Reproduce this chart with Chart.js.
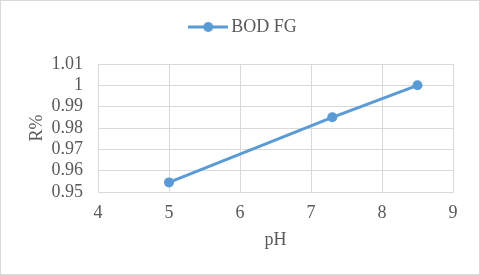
<!DOCTYPE html>
<html>
<head>
<meta charset="utf-8">
<script src="https://cdn.jsdelivr.net/npm/chart.js@4/dist/chart.umd.min.js"></script>
<style>
html,body{margin:0;padding:0;background:#fff;}
#wrap{position:relative;width:478px;height:273px;border:1px solid #d9d9d9;}
</style>
</head>
<body>
<div id="wrap"><canvas id="c" width="478" height="273"></canvas></div>
<script>
const seriesName = "BOD FG";
const phValues = [5, 7.3, 8.5];
const rValues = [0.9545, 0.985, 1.0];
const xTicks = [4, 5, 6, 7, 8, 9];
const yTicks = [0.95, 0.96, 0.97, 0.98, 0.99, 1, 1.01];
const xTitle = "pH";
const yTitle = "R%";

const blue = "#5B9BD5";
const txt = "#595959";
const grid = "#d9d9d9";
const fontFam = "'Liberation Serif', 'Times New Roman', serif";

// legend marker: line with a dot
const mk = document.createElement('canvas');
mk.width = 40; mk.height = 12;
(function(){
  const g = mk.getContext('2d');
  g.strokeStyle = blue; g.lineWidth = 3; g.lineCap = 'butt';
  g.beginPath(); g.moveTo(0, 6); g.lineTo(40, 6); g.stroke();
  g.fillStyle = blue; g.beginPath(); g.arc(20, 6, 5, 0, Math.PI*2); g.fill();
})();

Chart.defaults.font.family = fontFam;
Chart.defaults.color = txt;

const spacer = (pos, size) => ({
  type: 'linear',
  position: pos,
  display: true,
  min: 0, max: 1,
  ticks: {display: false},
  grid: {display: false, drawTicks: false},
  border: {display: false},
  title: {display: false},
  afterFit: s => { if (pos === 'top') s.height = size; else s.width = size; }
});

new Chart(document.getElementById('c'), {
  type: 'line',
  data: {
    datasets: [{
      label: seriesName,
      data: phValues.map((x, i) => ({x: x, y: rValues[i]})),
      borderColor: blue,
      backgroundColor: blue,
      borderWidth: 3,
      pointRadius: 5,
      pointHoverRadius: 5,
      pointBorderWidth: 0,
      tension: 0,
      clip: false
    }]
  },
  options: {
    responsive: false,
    animation: false,
    events: [],
    layout: {padding: {left: 11, right: 0, top: 0, bottom: 0}},
    plugins: {
      tooltip: {enabled: false},
      legend: {
        position: 'top',
        labels: {
          usePointStyle: true,
          pointStyle: mk,
          pointStyleWidth: 28,
          boxHeight: 12,
          padding: 17,
          color: txt,
          font: {size: 18, family: fontFam}
        }
      }
    },
    scales: {
      x: {
        type: 'linear',
        min: xTicks[0], max: xTicks[xTicks.length-1],
        afterBuildTicks: s => { s.ticks = xTicks.map(v => ({value: v})); },
        ticks: {color: txt, font: {size: 18}, padding: 10, autoSkip: false, maxRotation: 0, callback: v => String(v)},
        grid: {color: grid, lineWidth: 1, drawTicks: false},
        border: {color: grid},
        title: {display: true, text: xTitle, color: txt, font: {size: 18}, padding: {top: 0, bottom: 23}},
        afterFit: s => { s.height = 82; }
      },
      y: {
        type: 'linear',
        position: 'left',
        min: yTicks[0], max: yTicks[yTicks.length-1],
        afterBuildTicks: s => { s.ticks = yTicks.map(v => ({value: v})); },
        ticks: {color: txt, font: {size: 18}, padding: 15, autoSkip: false, callback: v => String(Number(v.toFixed(2)))},
        grid: {color: grid, lineWidth: 1, drawTicks: false},
        border: {color: grid},
        title: {display: true, text: yTitle, color: txt, font: {size: 18}, padding: {top: 14, bottom: 0}},
        afterFit: s => { s.width = 86; }
      },
      yR: spacer('right', 26),
      xT: Object.assign(spacer('top', 18), {type: 'linear'})
    }
  }
});
</script>
</body>
</html>
